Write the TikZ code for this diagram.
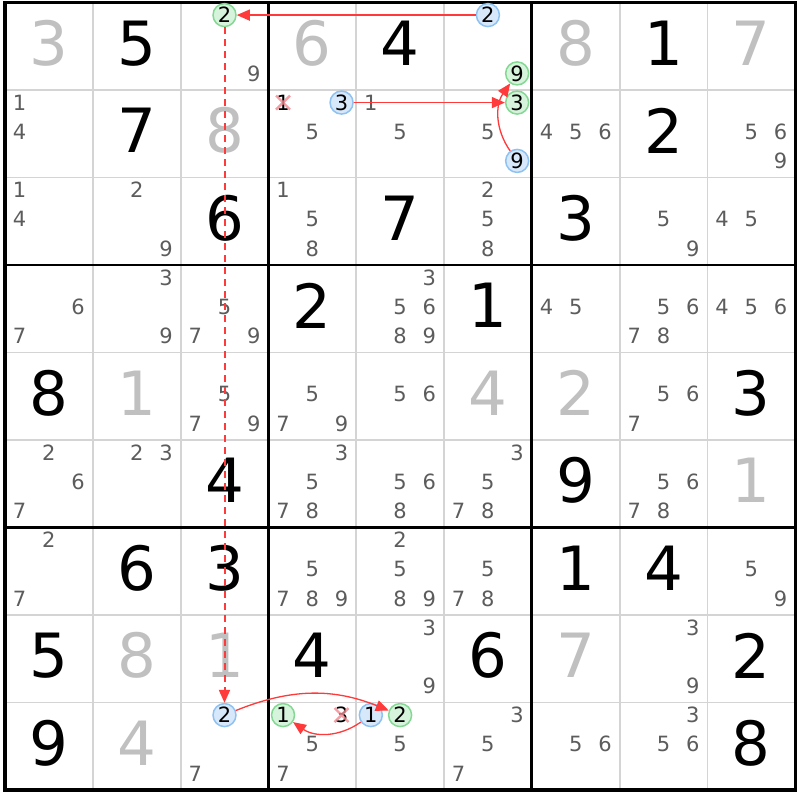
\documentclass[tikz,border=0pt]{standalone}
\usepackage{fontspec}
\setmainfont{DejaVu Sans}
\usetikzlibrary{arrows.meta}
\definecolor{candc}{HTML}{5C5C5C}
\definecolor{solvedc}{HTML}{C0C0C0}
\definecolor{thinc}{HTML}{D4D4D4}
\definecolor{bluefill}{HTML}{D8E8FB}
\definecolor{bluedraw}{HTML}{8EC2F2}
\definecolor{greenfill}{HTML}{D6F4DC}
\definecolor{greendraw}{HTML}{84D894}
\definecolor{linkc}{HTML}{FF3A3A}
\definecolor{crossc}{HTML}{F08890}
\tikzset{
  thinline/.style={draw=thinc,line width=1.8pt},
  thickline/.style={draw=black,line width=2.8pt},
  givenbig/.style={inner sep=0pt,text=black,font=\fontsize{61}{64}\selectfont},
  solvedbig/.style={givenbig,text=solvedc},
  candtext/.style={inner sep=0pt,text=candc,font=\fontsize{21}{22}\selectfont},
  ringbase/.style={circle,inner sep=0pt,minimum size=23pt,line width=1.5pt,text=black,font=\fontsize{21}{22}\selectfont},
  bluering/.style={ringbase,fill=bluefill,draw=bluedraw},
  greenring/.style={ringbase,fill=greenfill,draw=greendraw},
  crossx/.style={draw=crossc,line width=2.4pt,opacity=0.8},
  link/.style={draw=linkc,line width=1.3pt,-{Triangle[length=13pt,width=11pt]}},
  dlink/.style={draw=linkc,line width=2pt,dash pattern=on 7pt off 5pt,-{Triangle[length=13pt,width=11pt]}},
}
\newcommand\candpos[3]{%
  \pgfmathsetmacro\cx{5+(#1-1)*87.8+(mod(#3-1,3)+0.5)*87.8/3}%
  \pgfmathsetmacro\cy{2.5+(#2-1)*87.5+(floor((#3-1)/3)+0.5)*87.5/3-2}}
\newcommand\given[3]{\node[givenbig] (d#2#1) at ({5+(#1-0.5)*87.8},{2.5+(#2-0.5)*87.5-3}) {#3};}
\newcommand\solved[3]{\node[solvedbig] (d#2#1) at ({5+(#1-0.5)*87.8},{2.5+(#2-0.5)*87.5-3}) {#3};}
\newcommand\cands[3]{\foreach \d in {#3}{\candpos{#1}{#2}{\d}\node[candtext] (c#2#1\d) at (\cx,\cy) {\d};}}
\newcommand\ringcand[5]{\candpos{#2}{#3}{#4}\node[#1] (#5) at (\cx,\cy) {#4};}
\newcommand\crosscand[3]{\candpos{#1}{#2}{#3}\node[candtext,text=black] (x#2#1) at (\cx,\cy) {#3};
  \draw[crossx] ({\cx-7},{\cy-7}) -- ({\cx+7},{\cy+7}) ({\cx-7},{\cy+7}) -- ({\cx+7},{\cy-7});}
\begin{document}
\begin{tikzpicture}[x=1pt,y=-1pt]
\useasboundingbox (0,0) rectangle (800,800);
\fill[white] (0,0) rectangle (800,800);
% thin grid lines
\foreach \i in {1,2,4,5,7,8} {
  \draw[thinline] ({5+\i*87.8},2.5) -- ({5+\i*87.8},790);
  \draw[thinline] (5,{2.5+\i*87.5}) -- (795.2,{2.5+\i*87.5});
}
% thick box lines
\foreach \i in {3,6} {
  \draw[thickline] ({5+\i*87.8},2.5) -- ({5+\i*87.8},790);
  \draw[thickline] (5,{2.5+\i*87.5}) -- (795.2,{2.5+\i*87.5});
}
\draw[draw=black,line width=3.2pt] (5,2.5) rectangle (795.2,790);
% row 1
\solved{1}{1}{3} \given{2}{1}{5} \ringcand{greenring}{3}{1}{2}{g13} \cands{3}{1}{9}
\solved{4}{1}{6} \given{5}{1}{4} \ringcand{bluering}{6}{1}{2}{b16} \ringcand{greenring}{6}{1}{9}{g16}
\solved{7}{1}{8} \given{8}{1}{1} \solved{9}{1}{7}
% row 2
\cands{1}{2}{1,4} \given{2}{2}{7} \solved{3}{2}{8}
\crosscand{4}{2}{1} \ringcand{bluering}{4}{2}{3}{b24} \cands{4}{2}{5}
\cands{5}{2}{1,5}
\ringcand{greenring}{6}{2}{3}{g26} \cands{6}{2}{5} \ringcand{bluering}{6}{2}{9}{b26}
\cands{7}{2}{4,5,6} \given{8}{2}{2} \cands{9}{2}{5,6,9}
% row 3
\cands{1}{3}{1,4} \cands{2}{3}{2,9} \given{3}{3}{6} \cands{4}{3}{1,5,8} \given{5}{3}{7}
\cands{6}{3}{2,5,8} \given{7}{3}{3} \cands{8}{3}{5,9} \cands{9}{3}{4,5}
% row 4
\cands{1}{4}{6,7} \cands{2}{4}{3,9} \cands{3}{4}{5,7,9} \given{4}{4}{2} \cands{5}{4}{3,5,6,8,9}
\given{6}{4}{1} \cands{7}{4}{4,5} \cands{8}{4}{5,6,7,8} \cands{9}{4}{4,5,6}
% row 5
\given{1}{5}{8} \solved{2}{5}{1} \cands{3}{5}{5,7,9} \cands{4}{5}{5,7,9} \cands{5}{5}{5,6}
\solved{6}{5}{4} \solved{7}{5}{2} \cands{8}{5}{5,6,7} \given{9}{5}{3}
% row 6
\cands{1}{6}{2,6,7} \cands{2}{6}{2,3} \given{3}{6}{4} \cands{4}{6}{3,5,7,8} \cands{5}{6}{5,6,8}
\cands{6}{6}{3,5,7,8} \given{7}{6}{9} \cands{8}{6}{5,6,7,8} \solved{9}{6}{1}
% row 7
\cands{1}{7}{2,7} \given{2}{7}{6} \given{3}{7}{3} \cands{4}{7}{5,7,8,9} \cands{5}{7}{2,5,8,9}
\cands{6}{7}{5,7,8} \given{7}{7}{1} \given{8}{7}{4} \cands{9}{7}{5,9}
% row 8
\given{1}{8}{5} \solved{2}{8}{8} \solved{3}{8}{1} \given{4}{8}{4} \cands{5}{8}{3,9}
\given{6}{8}{6} \solved{7}{8}{7} \cands{8}{8}{3,9} \given{9}{8}{2}
% row 9
\given{1}{9}{9} \solved{2}{9}{4}
\ringcand{bluering}{3}{9}{2}{b93} \cands{3}{9}{7}
\ringcand{greenring}{4}{9}{1}{g94} \crosscand{4}{9}{3} \cands{4}{9}{5,7}
\ringcand{bluering}{5}{9}{1}{b95} \ringcand{greenring}{5}{9}{2}{g95} \cands{5}{9}{5}
\cands{6}{9}{3,5,7} \cands{7}{9}{5,6} \cands{8}{9}{3,5,6} \given{9}{9}{8}
% links
\draw[link] (b16) -- (g13);
\draw[dlink] (g13) -- (b93);
\draw[link] (b93) to[bend left=22] (g95);
\draw[link] (b95) to[bend left=35] (g94);
\draw[link] (b24) -- (g26);
\draw[link] (b26) to[bend left=35] (g16);
\end{tikzpicture}
\end{document}
